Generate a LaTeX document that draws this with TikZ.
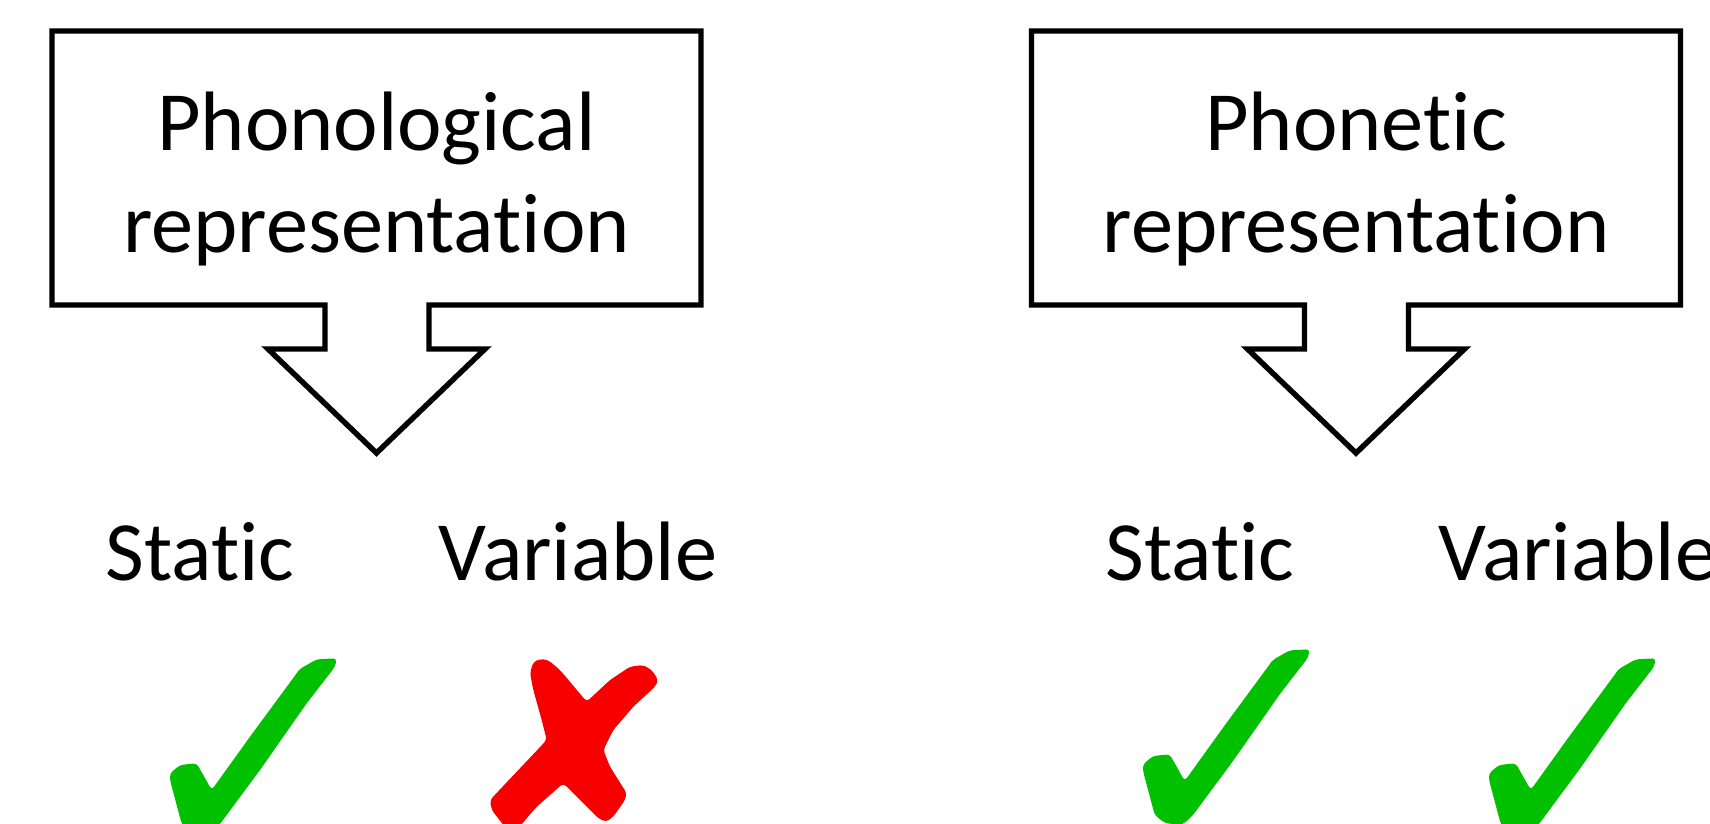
\documentclass[tikz,border=0pt]{standalone}
\usepackage{fontspec}
\setmainfont{Carlito}[Ligatures=NoCommon]
\definecolor{tickgreen}{RGB}{0,192,0}
\definecolor{crossred}{RGB}{248,0,0}

\begin{document}
\begin{tikzpicture}[x=0.02cm,y=-0.02cm,
  callout/.style={draw=black,line width=3.1pt,fill=white,line join=miter},
  title/.style={align=center,font=\fontsize{48}{58.4}\selectfont},
  word/.style={anchor=base,font=\fontsize{48}{58.4}\selectfont},
  pics/tick/.style={code={
    \fill[tickgreen,rounded corners=2pt] (-41.7,-10) -- (-41.7,-16.7) -- (-31.7,-25) -- (-15,-26.7)
      -- (0,0) -- (38.3,-53.3) -- (85,-116.7) -- (88,-121) -- (105,-130.7) -- (125,-131.7)
      -- (123.3,-123.3) -- (95,-86.7) -- (48.3,-20) -- (8.3,34) -- (0,42) -- (-5,44) -- (-20,42)
      -- (-30,34) -- cycle;}},
  pics/cross/.style={code={
    \fill[crossred,rounded corners=2pt] (-44,-72) -- (-40.7,-83) -- (-34,-86) -- (-26,-85) -- (-14,-75)
      -- (12.7,-43.3) -- (36,-65) -- (56,-78.3) -- (69.3,-80) -- (77.7,-75) -- (84.3,-65)
      -- (81,-58.3) -- (59.3,-38.3) -- (39.3,-15) -- (29.3,5) -- (36,21.7) -- (52.7,48.3)
      -- (51,55) -- (39.3,71.7) -- (32,77) -- (24,73) -- (-10.7,38.3) -- (-37.3,61.7)
      -- (-54,81) -- (-69,82) -- (-82.3,65) -- (-84,55) -- (-27.3,-5) -- (-32.3,-25)
      -- (-40.7,-55) -- cycle;}}]
\clip (0,0) rectangle (1710,824);

% Phonological: static ok, variable not
\begin{scope}[shift={(0,0)}]
\draw[callout] (52,31) -- (701,31) -- (701,305) -- (429,305) -- (429,349) -- (485,349)
  -- (376.5,453) -- (268,349) -- (325,349) -- (325,305) -- (52,305) -- cycle;
\node[title] (phonol) at (376.5,179) {Phonological\\representation};
\node[word] (phonolstatic) at (200,580) {Static};
\node[word] (phonolvariable) at (578,580) {Variable};
\pic (phonoltick) at (211.7,790) {tick};
\pic (phonolcross) at (574,745) {cross};
\end{scope}

% Phonetic: both ok
\begin{scope}[shift={(979.5,0)}]
\draw[callout] (52,31) -- (701,31) -- (701,305) -- (429,305) -- (429,349) -- (485,349)
  -- (376.5,453) -- (268,349) -- (325,349) -- (325,305) -- (52,305) -- cycle;
\node[title] (phonet) at (376.5,179) {Phonetic\\representation};
\node[word] (phonetstatic) at (220.5,580) {Static};
\node[word] (phonetvariable) at (598.5,580) {Variable};
\pic (phonettickA) at (205.2,781) {tick};
\pic (phonettickB) at (551.2,790) {tick};
\end{scope}
\end{tikzpicture}
\end{document}
